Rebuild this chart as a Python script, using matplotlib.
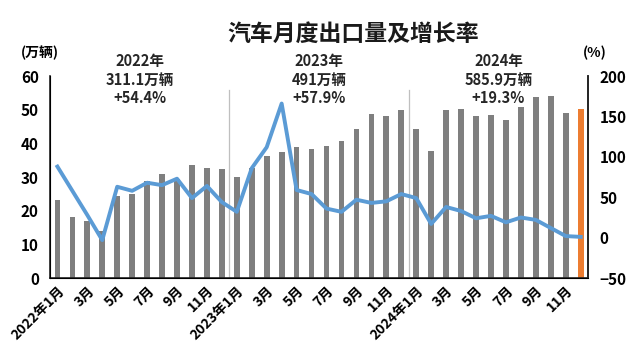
import numpy as np
import matplotlib.pyplot as plt

plt.rcParams['font.family'] = ['Noto Sans CJK SC', 'DejaVu Sans']
plt.rcParams['font.weight'] = 'bold'

# monthly exports, 10k vehicles (2022-01 .. 2024-12)
exports_2022 = [23.1, 18.0, 17.0, 14.0, 24.4, 25.1, 28.9, 30.8, 29.5, 33.7, 32.8, 32.4]
exports_2023 = [30.1, 32.6, 36.3, 37.5, 38.9, 38.2, 39.1, 40.8, 44.2, 48.8, 48.1, 49.9]
exports_2024 = [44.2, 37.6, 50.0, 50.2, 48.0, 48.5, 46.9, 50.9, 53.9, 54.1, 49.1, 50.3]

# year-on-year growth, %
growth_2022 = [88, 58, 28, -3, 63, 58, 68, 65, 73, 49, 64, 44]
growth_2023 = [32, 86, 112, 166, 59, 54, 36, 32, 47, 43, 45, 54]
growth_2024 = [49, 17, 38, 33, 24, 27, 19, 25, 22, 12, 2, 1]

years = ['2022', '2023', '2024']
year_notes = ['2022年\n311.1万辆\n+54.4%', '2023年\n491万辆\n+57.9%', '2024年\n585.9万辆\n+19.3%']

exports = np.array(exports_2022 + exports_2023 + exports_2024)
growth = np.array(growth_2022 + growth_2023 + growth_2024)
x = np.arange(len(exports))

tick_labels = []
for y in years:
    for m in range(1, 13):
        if m == 1:
            tick_labels.append(f'{y}年1月')
        elif m % 2 == 1:
            tick_labels.append(f'{m}月')
        else:
            tick_labels.append('')

fig = plt.figure(figsize=(6.4, 3.57), dpi=100)
ax = fig.add_axes([0.078, 0.221, 0.841, 0.566])

colors = ['#7f7f7f'] * (len(exports) - 1) + ['#ed7d31']
ax.bar(x, exports, width=0.38, color=colors, zorder=2)

for sep in [11.5, 23.5]:
    ax.plot([sep, sep], [0, 55.8], color='#bfbfbf', lw=0.9, zorder=1)

ax.set_xlim(-0.5, 35.5)
ax.set_ylim(0, 60)
ax.set_yticks(range(0, 61, 10))
ax.set_xticks(x)
ax.set_xticklabels(tick_labels, rotation=45, ha='right', rotation_mode='anchor',
                   fontsize=10, fontweight='bold')
ax.tick_params(axis='x', length=0, pad=4)
ax.tick_params(axis='y', length=0, labelsize=11, pad=8)
ax.spines['top'].set_visible(False)
for s in ['left', 'right', 'bottom']:
    ax.spines[s].set_color('#222222')
    ax.spines[s].set_linewidth(1.2)

ax2 = ax.twinx()
ax2.plot(x, growth, color='#5b9bd5', lw=2.8, zorder=3)
ax2.set_ylim(-50, 200)
ax2.set_yticks(range(-50, 201, 50))
ax2.tick_params(axis='y', length=0, labelsize=11, pad=8)
ax2.spines['top'].set_visible(False)
ax2.spines['right'].set_color('#222222')
ax2.spines['right'].set_linewidth(1.2)

fig.text(0.552, 0.905, '汽车月度出口量及增长率', fontsize=16.5, fontweight='bold',
         ha='center', va='center', color='#1a1a1a')
fig.text(0.062, 0.853, '(万辆)', fontsize=10, fontweight='bold', ha='center', va='center')
fig.text(0.93, 0.853, '(%)', fontsize=10, fontweight='bold', ha='center', va='center')

for i, note in enumerate(year_notes):
    ax.text(5.5 + 12 * i, 59, note, ha='center', va='center', fontsize=10.5,
            fontweight='bold', color='#262626', linespacing=1.2, clip_on=False)

fig.savefig('out.png', dpi=100)
